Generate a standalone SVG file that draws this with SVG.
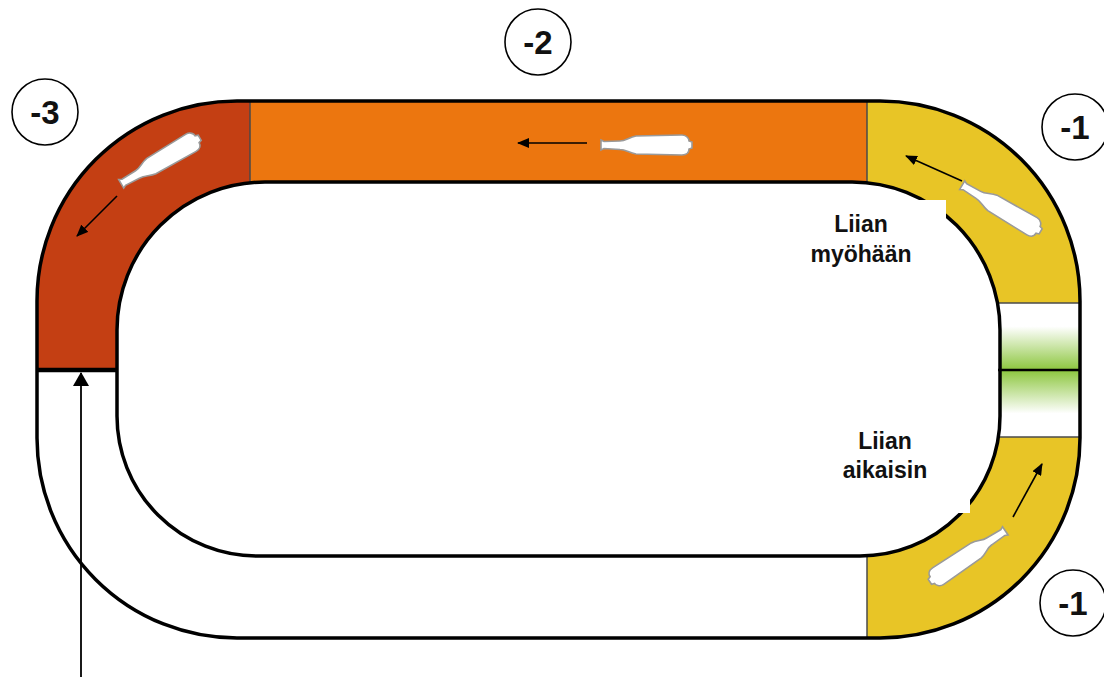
<svg xmlns="http://www.w3.org/2000/svg" xmlns:xlink="http://www.w3.org/1999/xlink" width="1104" height="677" viewBox="0 0 1104 677">
<style>
.edge{fill:none;stroke:#000;stroke-width:3.5}
.div{stroke:#4a4a4a;stroke-width:1.5}
.lbl{font-family:"Liberation Sans",Arial,sans-serif;font-weight:bold;font-size:23px;fill:#111;text-anchor:middle}
.num{font-family:"Liberation Sans",Arial,sans-serif;font-weight:bold;font-size:33px;fill:#111;text-anchor:middle}
.ring{fill:#fff;stroke:#000;stroke-width:1.6}
.arr{stroke:#000;stroke-width:1.6;fill:none;marker-end:url(#ah)}
.btl{fill:#fff;stroke:#9a9a9a;stroke-width:1.6}
</style>
<defs>
<marker id="ah" viewBox="0 0 12 10" refX="11" refY="5" markerWidth="12" markerHeight="10" markerUnits="userSpaceOnUse" orient="auto">
<path d="M0,0 L12,5 L0,10 Z" fill="#000"/>
</marker>
<marker id="ahb" viewBox="0 0 14 16" refX="13" refY="8" markerWidth="14" markerHeight="16" markerUnits="userSpaceOnUse" orient="auto">
<path d="M0,0 L14,8 L0,16 Z" fill="#000"/>
</marker>
<clipPath id="trk">
<path clip-rule="evenodd" d="M237,101 H880 A200,200 0 0 1 1080,301 V438 A200,200 0 0 1 880,638 H237 A200,200 0 0 1 37,438 V301 A200,200 0 0 1 237,101 Z M265,182 H852 A148,148 0 0 1 1000,330 V416 A140,140 0 0 1 860,556 H257 A140,140 0 0 1 117,416 V330 A148,148 0 0 1 265,182 Z"/>
</clipPath>
<linearGradient id="gTop" x1="0" y1="0" x2="0" y2="1">
<stop offset="0" stop-color="#fff"/>
<stop offset="0.35" stop-color="#fff"/>
<stop offset="1" stop-color="#8cc63e"/>
</linearGradient>
<linearGradient id="gBot" x1="0" y1="0" x2="0" y2="1">
<stop offset="0" stop-color="#8cc63e"/>
<stop offset="0.65" stop-color="#fff"/>
<stop offset="1" stop-color="#fff"/>
</linearGradient>
<path id="bottle" class="btl" d="M-45,-5 L-42,-3.5 L-26,-4 C-20,-4 -17,-8 -10,-9 L36,-10 C41,-10 43,-6 43,-4 L46,-3 L46,3 L43,4 C43,7 41,10 36,10 L-10,9 C-17,8 -20,4.5 -26,4.5 L-42,3.5 L-45,5 Z"/>
</defs>
<rect width="1104" height="677" fill="#fff"/>
<g id="track">
<g clip-path="url(#trk)">
<rect id="sec-red" x="0" y="0" width="250" height="370" fill="#c43f13"/>
<rect id="sec-orange" x="250" y="0" width="617" height="300" fill="#ec760f"/>
<rect id="sec-yellow-top" x="867" y="0" width="237" height="303" fill="#e8c526"/>
<rect id="sec-green-top" x="960" y="303" width="144" height="67" fill="url(#gTop)"/>
<rect id="sec-green-bot" x="960" y="370" width="144" height="67" fill="url(#gBot)"/>
<rect id="sec-yellow-bot" x="867" y="437" width="237" height="240" fill="#e8c526"/>
</g>
<line class="div" x1="250" y1="101" x2="250" y2="183"/>
<line class="div" x1="867" y1="101" x2="867" y2="182"/>
<line class="div" x1="867" y1="556" x2="867" y2="638"/>
<line class="div" x1="997" y1="303" x2="1080" y2="303"/>
<line class="div" x1="997" y1="437" x2="1080" y2="437"/>
<line x1="998" y1="370" x2="1080" y2="370" stroke="#000" stroke-width="2.5"/>
<line x1="37" y1="370" x2="117" y2="370" stroke="#000" stroke-width="4.5"/>
<path class="edge" d="M237,101 H880 A200,200 0 0 1 1080,301 V438 A200,200 0 0 1 880,638 H237 A200,200 0 0 1 37,438 V301 A200,200 0 0 1 237,101 Z"/>
<path class="edge" d="M265,182 H852 A148,148 0 0 1 1000,330 V416 A140,140 0 0 1 860,556 H257 A140,140 0 0 1 117,416 V330 A148,148 0 0 1 265,182 Z"/>
</g>
<g id="bottles">
<use xlink:href="#bottle" href="#bottle" transform="translate(646,145)"/>
<use xlink:href="#bottle" href="#bottle" transform="translate(160,161) rotate(-30.4)"/>
<use xlink:href="#bottle" href="#bottle" transform="translate(1001,208) rotate(30.5)"/>
<use xlink:href="#bottle" href="#bottle" transform="translate(968,556) rotate(146)"/>
</g>
<g id="connectors">
<line class="arr" x1="587" y1="143" x2="518" y2="143"/>
<line class="arr" x1="117" y1="196" x2="77" y2="236"/>
<line class="arr" x1="962" y1="181" x2="906" y2="156"/>
<line class="arr" x1="1013" y1="517" x2="1042" y2="464"/>
<line x1="81" y1="677" x2="81" y2="373" stroke="#000" stroke-width="1.8" marker-end="url(#ahb)"/>
</g>
<g id="label-late">
<rect x="780" y="200" width="166" height="75" fill="#fff"/>
<text class="lbl" x="861" y="232">Liian</text>
<text class="lbl" x="861" y="262">myöhään</text>
</g>
<g id="label-early">
<rect x="810" y="420" width="160" height="93" fill="#fff"/>
<text class="lbl" x="885" y="449">Liian</text>
<text class="lbl" x="885" y="478">aikaisin</text>
</g>
<g id="node-m3">
<circle class="ring" cx="45" cy="112" r="33"/>
<text class="num" x="45" y="124">-3</text>
</g>
<g id="node-m2">
<circle class="ring" cx="538" cy="42" r="33"/>
<text class="num" x="538" y="54">-2</text>
</g>
<g id="node-m1-top">
<circle class="ring" cx="1075" cy="127" r="33"/>
<text class="num" x="1075" y="139">-1</text>
</g>
<g id="node-m1-bot">
<circle class="ring" cx="1073" cy="603" r="33"/>
<text class="num" x="1073" y="615">-1</text>
</g>
</svg>
